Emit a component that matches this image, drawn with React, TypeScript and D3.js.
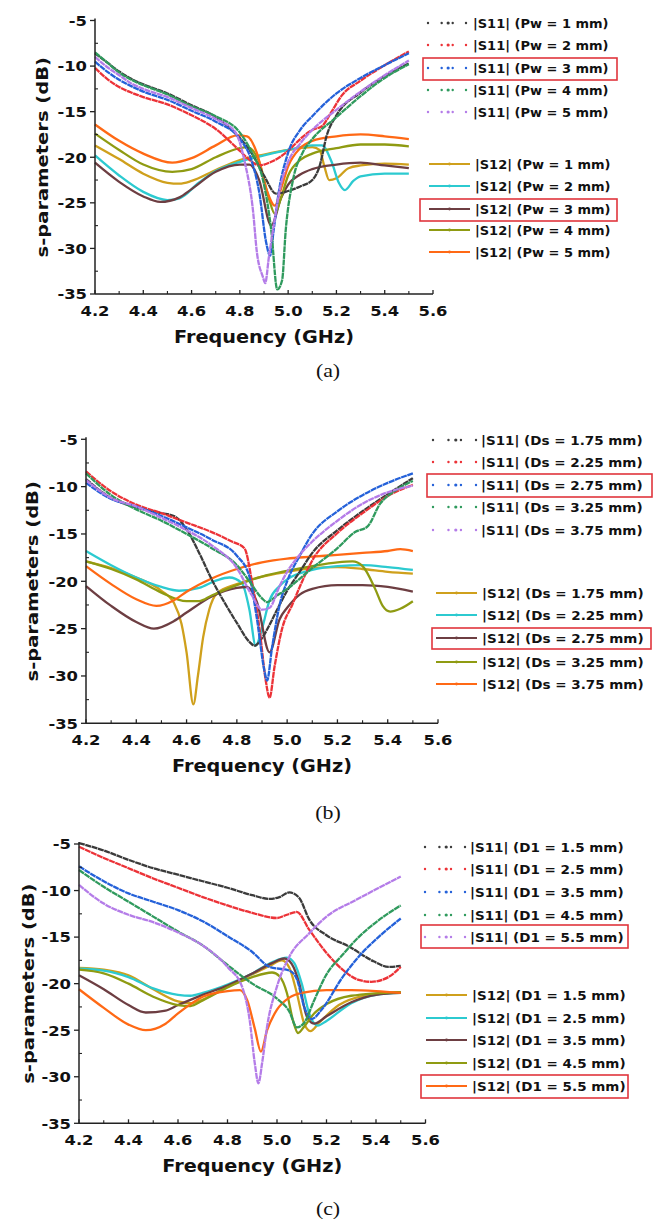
import React from "react";
import * as d3 from "d3";

type Pt = [number, number];

const xTickValues = [4.2, 4.4, 4.6, 4.8, 5.0, 5.2, 5.4, 5.6];
const yTickValues = [-5, -10, -15, -20, -25, -30, -35];
const s11Colors = ["#3b3b3b", "#ec3237", "#2461d9", "#2f9a5d", "#b47ce8"];
const s12Colors = ["#cfa01c", "#2ccad0", "#6d3e42", "#8f9b12", "#ff6915"];

const pwLabels = ["1", "2", "3", "4", "5"];
const dsLabels = ["1.75", "2.25", "2.75", "3.25", "3.75"];
const d1Labels = ["1.5", "2.5", "3.5", "4.5", "5.5"];

// (a) |S11| vs Pw
const aS11Pw1: Pt[] = [[4.2, -8.6], [4.25, -9.6], [4.3, -10.6], [4.35, -11.4], [4.4, -12.0], [4.5, -13.0], [4.6, -14.3], [4.7, -15.6], [4.8, -17.9], [4.85, -19.6], [4.9, -22], [4.95, -24], [5.0, -23.7], [5.05, -23.2], [5.1, -22.5], [5.13, -21], [5.16, -17.6], [5.2, -15.4], [5.3, -12.9], [5.4, -11.1], [5.5, -9.7]];
const aS11Pw2: Pt[] = [[4.2, -10.2], [4.25, -11.4], [4.3, -12.3], [4.35, -12.9], [4.4, -13.4], [4.5, -14.2], [4.6, -15.4], [4.7, -16.9], [4.8, -19.3], [4.85, -20.5], [4.88, -20.9], [4.93, -20.5], [5.0, -19.3], [5.05, -18.0], [5.1, -17.0], [5.14, -16.6], [5.18, -15.0], [5.22, -13.3], [5.3, -11.6], [5.4, -9.9], [5.5, -8.4]];
const aS11Pw3: Pt[] = [[4.2, -9.5], [4.25, -10.6], [4.3, -11.5], [4.35, -12.2], [4.4, -12.8], [4.5, -13.7], [4.6, -14.9], [4.7, -16.1], [4.8, -18.0], [4.85, -20.5], [4.88, -23.8], [4.91, -29.5], [4.925, -30.8], [4.94, -28], [4.96, -24], [5.0, -19.5], [5.05, -17.0], [5.1, -15.5], [5.2, -13.0], [5.3, -11.3], [5.4, -9.9], [5.5, -8.6]];
const aS11Pw4: Pt[] = [[4.2, -8.5], [4.25, -9.6], [4.3, -10.7], [4.35, -11.5], [4.4, -12.1], [4.5, -13.1], [4.6, -14.4], [4.7, -15.5], [4.8, -17.3], [4.85, -19.5], [4.9, -23], [4.93, -28], [4.955, -34.5], [4.975, -33.5], [4.99, -28], [5.02, -22.5], [5.06, -19.5], [5.1, -18], [5.2, -15.6], [5.3, -13.3], [5.4, -11.3], [5.5, -9.8]];
const aS11Pw5: Pt[] = [[4.2, -9.0], [4.25, -10.1], [4.3, -11.0], [4.35, -11.9], [4.4, -12.5], [4.5, -13.4], [4.6, -14.6], [4.7, -15.8], [4.78, -17.2], [4.82, -20.5], [4.855, -26], [4.87, -30.3], [4.895, -33.1], [4.905, -33.8], [4.92, -31], [4.94, -27.5], [4.97, -23], [5.0, -20.5], [5.05, -18.5], [5.1, -17], [5.2, -14.8], [5.3, -12.8], [5.4, -11], [5.5, -9.4]];

// (a) |S12| vs Pw
const aS12Pw1: Pt[] = [[4.2, -18.7], [4.3, -20.2], [4.4, -21.8], [4.5, -22.8], [4.55, -22.9], [4.6, -22.6], [4.7, -21.4], [4.8, -20.3], [4.9, -19.7], [5.0, -19.2], [5.1, -18.9], [5.13, -19.2], [5.15, -21], [5.17, -22.5], [5.2, -22.3], [5.25, -21.2], [5.3, -20.9], [5.4, -20.7], [5.5, -20.8]];
const aS12Pw2: Pt[] = [[4.2, -19.8], [4.3, -22.0], [4.4, -23.8], [4.5, -24.7], [4.55, -24.5], [4.63, -22.8], [4.7, -21.5], [4.8, -20.5], [4.9, -19.8], [5.0, -19.2], [5.1, -18.7], [5.14, -18.7], [5.18, -20.5], [5.21, -22.8], [5.235, -23.6], [5.27, -22.6], [5.3, -22.1], [5.4, -21.8], [5.5, -21.8]];
const aS12Pw3: Pt[] = [[4.2, -20.6], [4.3, -22.7], [4.4, -24.3], [4.47, -24.9], [4.55, -24.4], [4.6, -23.5], [4.7, -21.6], [4.8, -20.8], [4.84, -20.8], [4.88, -22.5], [4.93, -27.5], [4.97, -24.5], [5.0, -23], [5.05, -21.9], [5.1, -21.3], [5.2, -20.8], [5.3, -20.6], [5.4, -20.9], [5.5, -21.2]];
const aS12Pw4: Pt[] = [[4.2, -17.4], [4.3, -19.2], [4.4, -20.8], [4.52, -21.6], [4.6, -21.3], [4.7, -20], [4.8, -19], [4.83, -18.9], [4.88, -20.5], [4.92, -24.5], [4.945, -26.2], [4.97, -24.5], [5.0, -22], [5.05, -20.3], [5.1, -19.6], [5.2, -19], [5.3, -18.6], [5.4, -18.6], [5.5, -18.8]];
const aS12Pw5: Pt[] = [[4.2, -16.4], [4.3, -18.2], [4.4, -19.6], [4.52, -20.6], [4.6, -20.1], [4.7, -18.7], [4.79, -17.6], [4.83, -17.7], [4.87, -19.5], [4.91, -23.5], [4.945, -25.3], [4.97, -23.5], [5.0, -21], [5.05, -19], [5.1, -18.2], [5.2, -17.7], [5.3, -17.5], [5.4, -17.7], [5.5, -18.0]];

// (b) |S11| vs Ds
const bS11Ds175: Pt[] = [[4.2, -9.2], [4.3, -11.2], [4.4, -12.2], [4.5, -12.8], [4.55, -13.1], [4.6, -14.5], [4.65, -17], [4.7, -19.8], [4.75, -22.2], [4.8, -24.4], [4.85, -26.4], [4.87, -26.8], [4.9, -26], [4.93, -24.6], [4.96, -23], [5.0, -21], [5.05, -19], [5.1, -17], [5.2, -14.6], [5.3, -12.6], [5.4, -10.8], [5.5, -9.1]];
const bS11Ds225: Pt[] = [[4.2, -8.4], [4.3, -10.5], [4.4, -11.9], [4.5, -12.8], [4.6, -13.8], [4.7, -14.8], [4.78, -15.8], [4.83, -16.5], [4.86, -20], [4.89, -25], [4.915, -30.5], [4.93, -32.3], [4.95, -29], [4.98, -25], [5.02, -22.5], [5.06, -20], [5.1, -17.8], [5.2, -14.9], [5.3, -12.8], [5.4, -11.0], [5.5, -9.8]];
const bS11Ds275: Pt[] = [[4.2, -9.6], [4.3, -11.3], [4.4, -12.1], [4.5, -13.1], [4.6, -14.3], [4.7, -15.6], [4.8, -17.3], [4.85, -19.5], [4.88, -24], [4.91, -29.5], [4.92, -30.5], [4.94, -27], [4.97, -22.5], [5.0, -20], [5.05, -17.3], [5.1, -15], [5.2, -12.6], [5.3, -10.9], [5.4, -9.6], [5.5, -8.6]];
const bS11Ds325: Pt[] = [[4.2, -8.6], [4.3, -10.9], [4.4, -12.4], [4.5, -13.6], [4.6, -15], [4.7, -16.5], [4.8, -18.3], [4.85, -20], [4.9, -21.8], [4.92, -22.2], [4.96, -21.5], [5.0, -20.8], [5.1, -18.6], [5.2, -16.5], [5.27, -14.8], [5.32, -14.2], [5.37, -11.8], [5.42, -10.6], [5.5, -9.4]];
const bS11Ds375: Pt[] = [[4.2, -9.3], [4.3, -11.2], [4.4, -12.1], [4.5, -13.3], [4.6, -14.6], [4.7, -16.2], [4.8, -18.6], [4.86, -21.5], [4.9, -23], [4.93, -22.8], [4.97, -20.5], [5.0, -19], [5.05, -17.2], [5.1, -15.8], [5.2, -13.6], [5.3, -11.8], [5.4, -10.6], [5.5, -9.9]];

// (b) |S12| vs Ds
const bS12Ds175: Pt[] = [[4.2, -17.9], [4.3, -18.6], [4.4, -19.6], [4.5, -21.0], [4.55, -22.3], [4.58, -24.5], [4.6, -27.5], [4.627, -33], [4.645, -30], [4.666, -25.9], [4.69, -23], [4.72, -21.3], [4.8, -20.3], [4.9, -19.5], [5.0, -19], [5.1, -18.6], [5.2, -18.5], [5.3, -18.7], [5.4, -19], [5.5, -19.2]];
const bS12Ds225: Pt[] = [[4.2, -16.8], [4.3, -18.3], [4.4, -19.6], [4.5, -20.6], [4.57, -21.0], [4.65, -20.7], [4.72, -19.9], [4.77, -19.6], [4.82, -20.2], [4.85, -23], [4.875, -26.8], [4.9, -25], [4.93, -22], [4.97, -20.5], [5.0, -19.8], [5.1, -18.8], [5.2, -18.4], [5.3, -18.3], [5.4, -18.5], [5.5, -18.8]];
const bS12Ds275: Pt[] = [[4.2, -20.5], [4.3, -22.6], [4.4, -24.3], [4.47, -25], [4.55, -24.2], [4.6, -23.3], [4.7, -21.6], [4.8, -20.7], [4.84, -20.6], [4.88, -22.2], [4.93, -27.5], [4.97, -24], [5.0, -22.8], [5.05, -21.4], [5.1, -20.8], [5.2, -20.4], [5.3, -20.4], [5.4, -20.6], [5.5, -21.1]];
const bS12Ds325: Pt[] = [[4.2, -17.9], [4.3, -18.7], [4.4, -19.8], [4.5, -21.2], [4.6, -22.1], [4.65, -22.1], [4.7, -21.5], [4.8, -20.4], [4.9, -19.5], [5.0, -18.9], [5.1, -18.4], [5.2, -18.0], [5.26, -17.9], [5.3, -18.4], [5.35, -20.8], [5.38, -22.6], [5.41, -23.2], [5.45, -22.9], [5.5, -22.1]];
const bS12Ds375: Pt[] = [[4.2, -18.4], [4.3, -20.3], [4.4, -21.9], [4.48, -22.6], [4.55, -22.0], [4.6, -21.1], [4.7, -19.7], [4.8, -18.7], [4.9, -18.0], [5.0, -17.6], [5.1, -17.4], [5.2, -17.2], [5.3, -17.0], [5.4, -16.8], [5.45, -16.6], [5.5, -16.8]];

// (c) |S11| vs D1
const cS11D115: Pt[] = [[4.2, -4.9], [4.3, -5.7], [4.4, -6.7], [4.5, -7.6], [4.6, -8.3], [4.7, -9.0], [4.8, -9.7], [4.9, -10.5], [4.97, -10.9], [5.01, -10.7], [5.05, -10.2], [5.09, -10.8], [5.13, -13.1], [5.2, -14.8], [5.29, -16.0], [5.39, -17.6], [5.45, -18.2], [5.5, -18.1]];
const cS11D125: Pt[] = [[4.2, -5.3], [4.3, -6.5], [4.4, -7.6], [4.5, -8.7], [4.6, -9.7], [4.7, -10.7], [4.8, -11.6], [4.9, -12.4], [5.0, -12.95], [5.04, -12.6], [5.08, -12.3], [5.13, -14.2], [5.2, -16.7], [5.265, -18.5], [5.33, -19.6], [5.38, -19.8], [5.45, -19.3], [5.5, -18.2]];
const cS11D135: Pt[] = [[4.2, -7.4], [4.3, -9.0], [4.4, -10.3], [4.5, -11.2], [4.6, -12.1], [4.7, -13.3], [4.8, -14.9], [4.9, -16.6], [4.97, -18.2], [5.05, -18.6], [5.08, -19.5], [5.11, -22.5], [5.14, -23.8], [5.18, -22.8], [5.265, -19.3], [5.33, -17.1], [5.41, -15.0], [5.5, -13.0]];
const cS11D145: Pt[] = [[4.2, -7.8], [4.3, -9.6], [4.4, -11.2], [4.5, -12.8], [4.6, -14.4], [4.7, -15.9], [4.8, -18.0], [4.9, -20.0], [5.0, -21.6], [5.05, -23.0], [5.08, -24.7], [5.11, -24.2], [5.15, -21.8], [5.2, -19.0], [5.265, -16.9], [5.33, -15.0], [5.41, -13.2], [5.5, -11.6]];
const cS11D155: Pt[] = [[4.2, -9.4], [4.3, -11.4], [4.4, -12.6], [4.5, -13.4], [4.6, -14.5], [4.7, -15.9], [4.8, -18.2], [4.86, -20.4], [4.89, -24], [4.91, -28.5], [4.925, -30.7], [4.94, -28.5], [4.96, -24.6], [5.0, -20.3], [5.05, -17.1], [5.13, -14.6], [5.2, -12.8], [5.32, -11.0], [5.5, -8.5]];

// (c) |S12| vs D1
const cS12D115: Pt[] = [[4.2, -18.3], [4.3, -18.5], [4.4, -19.1], [4.5, -20.6], [4.6, -21.9], [4.65, -22.1], [4.7, -21.7], [4.8, -20.3], [4.9, -19.0], [4.97, -18.1], [5.02, -17.5], [5.05, -18.3], [5.08, -21], [5.11, -24.3], [5.135, -25.1], [5.17, -24.2], [5.25, -22.3], [5.35, -21.3], [5.5, -20.9]];
const cS12D125: Pt[] = [[4.2, -18.4], [4.3, -18.6], [4.4, -19.3], [4.5, -20.5], [4.6, -21.2], [4.65, -21.3], [4.7, -21.0], [4.8, -20.1], [4.9, -18.9], [4.98, -17.7], [5.04, -17.2], [5.07, -17.8], [5.1, -20], [5.13, -23.2], [5.165, -24.5], [5.2, -24.0], [5.3, -22.1], [5.4, -21.2], [5.5, -21.0]];
const cS12D135: Pt[] = [[4.2, -19.1], [4.3, -20.6], [4.4, -22.3], [4.47, -23.1], [4.55, -22.9], [4.6, -22.3], [4.7, -21.2], [4.8, -20.2], [4.9, -18.9], [4.98, -17.8], [5.03, -17.3], [5.06, -17.9], [5.09, -20], [5.12, -23.5], [5.15, -24.3], [5.2, -23.5], [5.3, -22], [5.4, -21.2], [5.5, -21.0]];
const cS12D145: Pt[] = [[4.2, -18.5], [4.3, -18.9], [4.4, -20.0], [4.5, -21.4], [4.6, -22.3], [4.65, -22.4], [4.7, -21.8], [4.8, -20.4], [4.9, -19.3], [4.98, -18.8], [5.01, -19.2], [5.04, -21], [5.065, -24], [5.085, -25.3], [5.11, -24.6], [5.15, -23.2], [5.2, -22.2], [5.3, -21.3], [5.5, -20.9]];
const cS12D155: Pt[] = [[4.2, -20.6], [4.3, -22.6], [4.4, -24.4], [4.47, -25.0], [4.55, -24.3], [4.6, -23.2], [4.7, -21.4], [4.8, -20.8], [4.85, -20.7], [4.88, -21.8], [4.91, -24.8], [4.935, -27.3], [4.96, -25], [5.0, -22.8], [5.05, -21.5], [5.1, -21.0], [5.2, -20.7], [5.3, -20.7], [5.4, -20.8], [5.5, -21.0]];

const panels = [
  {
    tag: "(a)", param: "Pw", labels: pwLabels,
    s11: [aS11Pw1, aS11Pw2, aS11Pw3, aS11Pw4, aS11Pw5],
    s12: [aS12Pw1, aS12Pw2, aS12Pw3, aS12Pw4, aS12Pw5],
    left: 95, right: 433, top: 20.5, bottom: 294, titleX: 42, tagY: 377,
    leg: { r11: [23, 45, 68, 90, 112], r12: [164, 186, 209, 230, 252], l11: [428, 466], l12: [429, 470], t11: 473, t12: 475, sx: 1.0, box11: [423, 617, 58, 80], box12: [420, 617, 199, 221] },
  },
  {
    tag: "(b)", param: "Ds", labels: dsLabels,
    s11: [bS11Ds175, bS11Ds225, bS11Ds275, bS11Ds325, bS11Ds375],
    s12: [bS12Ds175, bS12Ds225, bS12Ds275, bS12Ds325, bS12Ds375],
    left: 86, right: 438, top: 439.3, bottom: 723.3, titleX: 32, tagY: 819,
    leg: { r11: [440, 462, 485, 507, 530], r12: [593, 615, 638, 662, 684], l11: [433, 476], l12: [436, 477], t11: 481, t12: 482, sx: 1.04, box11: [427, 652, 474, 497], box12: [432, 651, 628, 649] },
  },
  {
    tag: "(c)", param: "D1", labels: d1Labels,
    s11: [cS11D115, cS11D125, cS11D135, cS11D145, cS11D155],
    s12: [cS12D115, cS12D125, cS12D135, cS12D145, cS12D155],
    left: 79, right: 425.5, top: 844, bottom: 1123.3, titleX: 28, tagY: 1215,
    leg: { r11: [847, 869, 892, 915, 937], r12: [995, 1018, 1040, 1063, 1086], l11: [425, 465], l12: [426, 467], t11: 470, t12: 472, sx: 1.04, box11: [421, 628, 925, 948], box12: [421, 628, 1075, 1098] },
  },
];

const SANS = "'DejaVu Sans', Verdana, sans-serif";

// text stretched along its own direction, the figure uses a wide bold face
const SText = ({ x, y, sx = 1, rot = 0, anchor = "start", size, weight = "bold", family = SANS, children }: any) => (
  <text
    transform={`translate(${x},${y}) rotate(${rot}) scale(${sx},1)`}
    textAnchor={anchor}
    fontSize={size}
    fontWeight={weight}
    fontFamily={family}
    fill="#111"
  >
    {children}
  </text>
);

const Panel = ({ p }: any) => {
  const x = d3.scaleLinear().domain([4.2, 5.6]).range([p.left, p.right]);
  const y = d3.scaleLinear().domain([-5, -35]).range([p.top, p.bottom]);
  const line = d3
    .line<Pt>()
    .x((d) => x(d[0]))
    .y((d) => y(d[1]))
    .curve(d3.curveMonotoneX);
  const xMinor = d3.range(4.3, 5.6, 0.2);
  const yMinor = d3.range(-7.5, -35, -5);
  const midX = (p.left + p.right) / 2;
  const midY = (p.top + p.bottom) / 2;
  const lg = p.leg;
  const dotFrac = [0, 0.36, 0.53, 0.65, 1];

  return (
    <g>
      {/* curves */}
      {p.s12.map((s: Pt[], i: number) => (
        <path key={"s12" + i} d={line(s) || ""} fill="none" stroke={s12Colors[i]} strokeWidth={2.3} />
      ))}
      {p.s11.map((s: Pt[], i: number) => (
        <path key={"s11" + i} d={line(s) || ""} fill="none" stroke={s11Colors[i]} strokeWidth={2.3} strokeDasharray="6 0.6" />
      ))}

      {/* axes */}
      <line x1={p.left} x2={p.left} y1={p.top - 2} y2={p.bottom} stroke="#222" strokeWidth={1.5} />
      <line x1={p.left} x2={p.right} y1={p.bottom} y2={p.bottom} stroke="#222" strokeWidth={1.5} />
      {yTickValues.map((t) => (
        <g key={"yt" + t}>
          <line x1={p.left - 5} x2={p.left} y1={y(t)} y2={y(t)} stroke="#222" strokeWidth={1.3} />
          <SText x={p.left - 8} y={y(t) + 5.3} sx={1.13} anchor="end" size={14.5}>{String(t)}</SText>
        </g>
      ))}
      {yMinor.map((t) => (
        <line key={"ym" + t} x1={p.left} x2={p.left + 3} y1={y(t)} y2={y(t)} stroke="#222" strokeWidth={1.1} />
      ))}
      {xTickValues.map((t) => (
        <g key={"xt" + t}>
          <line x1={x(t)} x2={x(t)} y1={p.bottom} y2={p.bottom - 4} stroke="#222" strokeWidth={1.3} />
          <SText x={x(t)} y={p.bottom + 22} sx={1.13} anchor="middle" size={14.5}>{t.toFixed(1)}</SText>
        </g>
      ))}
      {xMinor.map((t) => (
        <line key={"xm" + t} x1={x(t)} x2={x(t)} y1={p.bottom} y2={p.bottom - 3} stroke="#222" strokeWidth={1.1} />
      ))}
      <SText x={midX} y={p.bottom + 49} sx={1.1} anchor="middle" size={17.5}>Frequency (GHz)</SText>
      <SText x={p.titleX + 6} y={midY} rot={-90} sx={1.22} anchor="middle" size={16}>s-parameters (dB)</SText>

      {/* legend */}
      {p.labels.map((lab: string, i: number) => {
        const cy = lg.r11[i];
        const w = lg.l11[1] - lg.l11[0];
        return (
          <g key={"l11" + i}>
            {dotFrac.map((f, j) => (
              <circle key={j} cx={lg.l11[0] + f * w} cy={cy} r={j === 2 ? 1.6 : 1.2} fill={s11Colors[i]} />
            ))}
            <SText x={lg.t11} y={cy + 4.8} sx={lg.sx} size={13}>{`|S11| (${p.param} = ${lab} mm)`}</SText>
          </g>
        );
      })}
      {p.labels.map((lab: string, i: number) => {
        const cy = lg.r12[i];
        return (
          <g key={"l12" + i}>
            <line x1={lg.l12[0]} x2={lg.l12[1]} y1={cy} y2={cy} stroke={s12Colors[i]} strokeWidth={2.2} />
            <circle cx={(lg.l12[0] + lg.l12[1]) / 2} cy={cy} r={1.4} fill={s12Colors[i]} />
            <SText x={lg.t12} y={cy + 4.8} sx={lg.sx} size={13}>{`|S12| (${p.param} = ${lab} mm)`}</SText>
          </g>
        );
      })}
      {[lg.box11, lg.box12].map((b: number[], i: number) => (
        <rect key={"box" + i} x={b[0]} y={b[2]} width={b[1] - b[0]} height={b[3] - b[2]} fill="none" stroke="#e0353c" strokeWidth={1.6} />
      ))}

      <SText x={328} y={p.tagY} sx={1.15} anchor="middle" size={19} weight="normal" family="'Liberation Serif', 'Times New Roman', serif">{p.tag}</SText>
    </g>
  );
};

export default function App() {
  return (
    <svg width={658} height={1221} style={{ position: "absolute", left: 0, top: 0, background: "#fff" }}>
      <rect width={658} height={1221} fill="#fff" />
      {panels.map((p) => (
        <Panel key={p.tag} p={p} />
      ))}
    </svg>
  );
}
